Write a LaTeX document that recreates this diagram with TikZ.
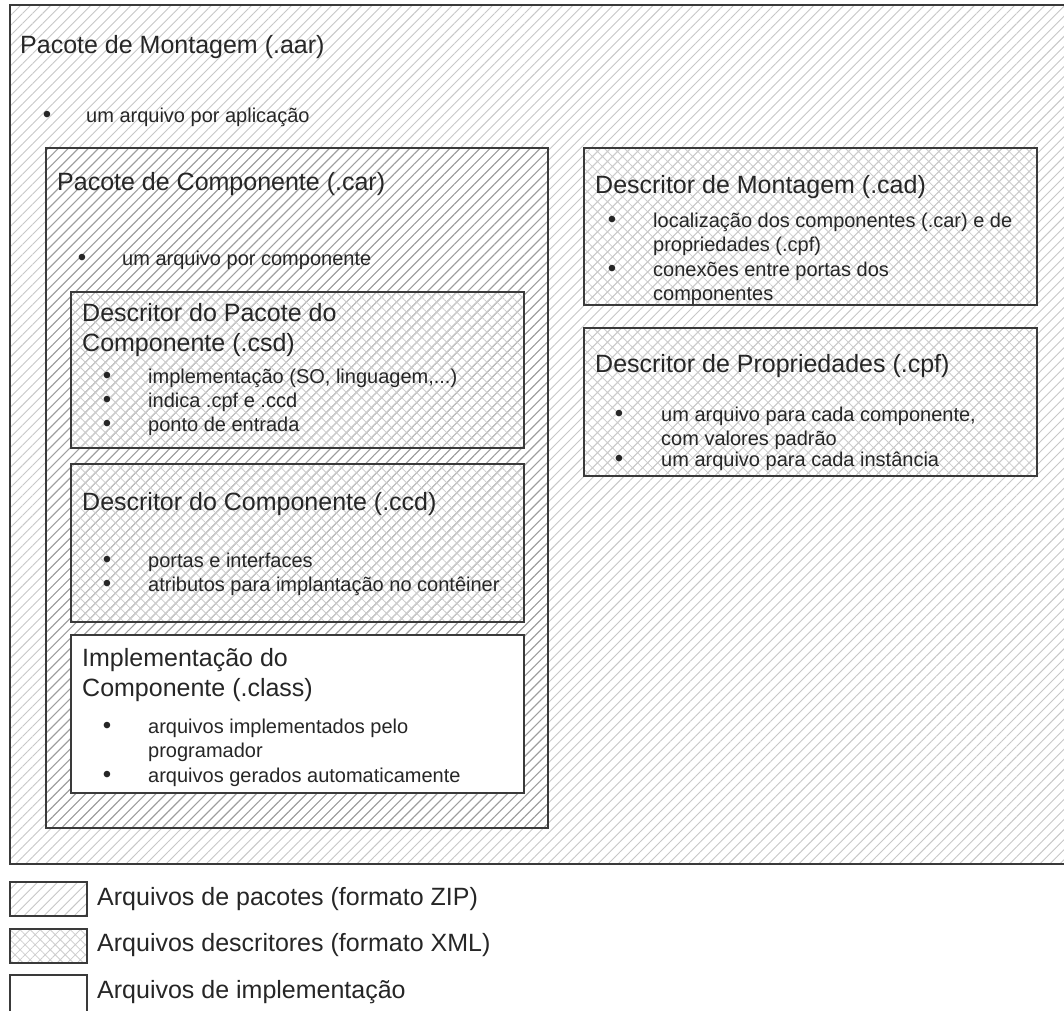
\documentclass[tikz,border=0pt]{standalone}
\usepackage{fontspec}
\setmainfont{Liberation Sans}
\usetikzlibrary{patterns.meta}
\definecolor{ink}{HTML}{262626}
\definecolor{edge}{HTML}{3A3A3A}
\begin{document}
\begin{tikzpicture}[x=1pt,y=-1pt,
  box/.style={draw=edge, line width=1.4pt, anchor=north west, inner sep=0pt, outer sep=0pt},
  zipbox/.style={box, pattern={Lines[angle=45,distance=7.1pt,line width=0.9pt]}, pattern color=black!22},
  zipinner/.style={box, pattern={Lines[angle=45,distance=7.1pt,line width=1pt]}, pattern color=black!38},
  xmlbox/.style={box, pattern={Hatch[angle=45,distance=7.1pt,line width=0.8pt]}, pattern color=black!20},
  implbox/.style={box, fill=white},
  ttl/.style={anchor=west, inner sep=0pt, text=ink, align=left, font=\fontsize{25}{30}\selectfont},
  txt/.style={anchor=west, inner sep=0pt, text=ink, align=left, font=\fontsize{20}{24}\selectfont},
  dot/.style={inner sep=0pt, text=ink, font=\fontsize{24}{24}\selectfont}
]
\useasboundingbox (0,0) rectangle (1064,1010);

% assembly package (.aar)
\node[zipbox, minimum width=1080pt, minimum height=859pt] (aar) at (10,5) {};
\node[ttl] (aarT) at (20,47) {Pacote de Montagem (.aar)};
\node[dot] (aarB) at (47,117) {•};
\node[txt] (aarI) at (86,117) {um arquivo por aplicação};

% component package (.car)
\node[zipinner, minimum width=502pt, minimum height=680pt] (car) at (46,148) {};
\node[ttl] (carT) at (57,184) {Pacote de Componente (.car)};
\node[dot] (carB) at (82,260) {•};
\node[txt] (carI) at (122,260) {um arquivo por componente};

% component package descriptor (.csd)
\node[xmlbox, minimum width=453pt, minimum height=156pt] (csd) at (71,292) {};
\node[ttl] (csdT) at (82,330) {Descritor do Pacote do\\Componente (.csd)};
\node[dot] (csdB1) at (107,378) {•};
\node[dot] (csdB2) at (107,402) {•};
\node[dot] (csdB3) at (107,426) {•};
\node[txt] (csdI1) at (148,378) {implementação (SO, linguagem,...)};
\node[txt] (csdI2) at (148,402) {indica .cpf e .ccd};
\node[txt] (csdI3) at (148,426) {ponto de entrada};

% component descriptor (.ccd)
\node[xmlbox, minimum width=453pt, minimum height=158pt] (ccd) at (71,464) {};
\node[ttl] (ccdT) at (82,504) {Descritor do Componente (.ccd)};
\node[dot] (ccdB1) at (107,562) {•};
\node[dot] (ccdB2) at (107,586) {•};
\node[txt] (ccdI1) at (148,562) {portas e interfaces};
\node[txt] (ccdI2) at (148,586) {atributos para implantação no contêiner};

% component implementation (.class)
\node[implbox, minimum width=453pt, minimum height=158pt] (impl) at (71,635) {};
\node[ttl] (implT) at (82,675) {Implementação do\\Componente (.class)};
\node[dot] (implB1) at (107,728) {•};
\node[dot] (implB2) at (107,777) {•};
\node[txt] (implI1) at (148,740) {arquivos implementados pelo\\programador};
\node[txt] (implI2) at (148,777) {arquivos gerados automaticamente};

% assembly descriptor (.cad)
\node[xmlbox, minimum width=453pt, minimum height=157pt] (cad) at (584,148) {};
\node[ttl] (cadT) at (595,187) {Descritor de Montagem (.cad)};
\node[dot] (cadB1) at (612,222) {•};
\node[dot] (cadB2) at (612,271) {•};
\node[txt] (cadI1) at (653,234) {localização dos componentes (.car) e de\\propriedades (.cpf)};
\node[txt] (cadI2) at (653,283) {conexões entre portas dos\\componentes};

% property descriptor (.cpf)
\node[xmlbox, minimum width=453pt, minimum height=148pt] (cpf) at (584,328) {};
\node[ttl] (cpfT) at (595,366) {Descritor de Propriedades (.cpf)};
\node[dot] (cpfB1) at (619,416) {•};
\node[dot] (cpfB2) at (619,461) {•};
\node[txt] (cpfI1) at (661,428) {um arquivo para cada componente,\\com valores padrão};
\node[txt] (cpfI2) at (661,461) {um arquivo para cada instância};

% legend
\node[box, pattern={Lines[angle=45,distance=7.1pt,line width=0.9pt]}, pattern color=black!22, minimum width=77pt, minimum height=34pt] (lgZip) at (10,882) {};
\node[xmlbox, minimum width=77pt, minimum height=34pt] (lgXml) at (10,929) {};
\node[implbox, minimum width=77pt, minimum height=40pt] (lgImpl) at (10,975) {};
\node[ttl] (lgZipT) at (97,899) {Arquivos de pacotes (formato ZIP)};
\node[ttl] (lgXmlT) at (97,945) {Arquivos descritores (formato XML)};
\node[ttl] (lgImplT) at (97,992) {Arquivos de implementação};
\end{tikzpicture}
\end{document}
